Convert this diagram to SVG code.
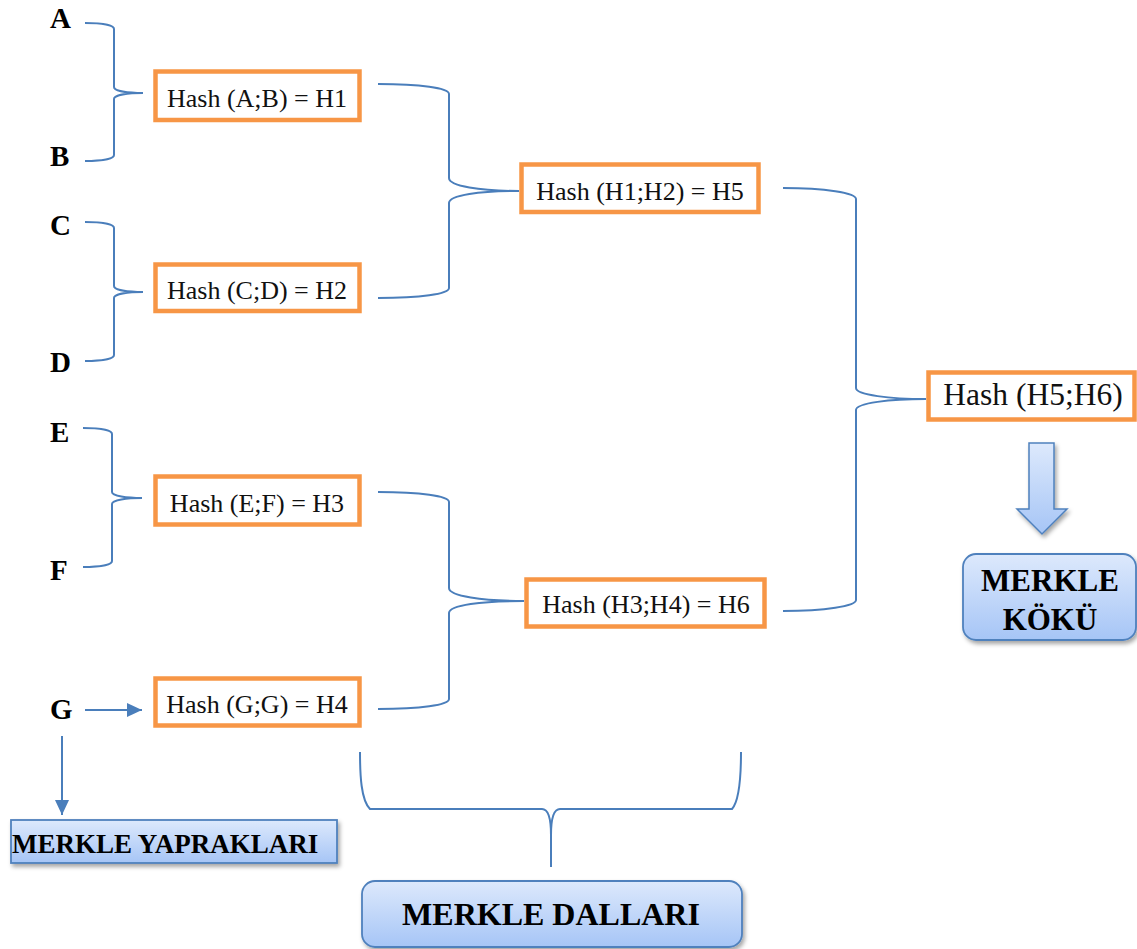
<svg xmlns="http://www.w3.org/2000/svg" width="1137" height="949" viewBox="0 0 1137 949">
<style>
.leaf{font-family:"Liberation Serif","Times New Roman",serif;font-weight:bold;font-size:29px;fill:#000}
.hbox{fill:#fff;stroke:#F79646;stroke-width:4.5}
.htxt{font-family:"Liberation Serif","Times New Roman",serif;font-size:26px;fill:#111;text-anchor:middle}
.con{fill:none;stroke:#4A7EBB;stroke-width:2}
.blue{fill:url(#bg);stroke:#4F81BD;stroke-width:1.8;filter:url(#sh)}
.btxt{font-family:"Liberation Serif","Times New Roman",serif;font-weight:bold;fill:#000}
</style>
<defs>
<linearGradient id="bg" x1="0" y1="0" x2="0" y2="1">
<stop offset="0" stop-color="#DDE9FC"/>
<stop offset="1" stop-color="#A6C5F6"/>
</linearGradient>
<filter id="sh" x="-10%" y="-10%" width="130%" height="140%">
<feDropShadow dx="2" dy="3" stdDeviation="2" flood-color="#000" flood-opacity="0.35"/>
</filter>
<marker id="ah" markerWidth="15" markerHeight="14" refX="15" refY="7" orient="auto" markerUnits="userSpaceOnUse">
<path d="M0,0 L15,7 L0,14 Z" fill="#4A7EBB"/>
</marker>
</defs>

<g id="leaf-A"><text class="leaf" x="50" y="28">A</text></g>
<g id="leaf-B"><text class="leaf" x="50" y="166">B</text></g>
<g id="leaf-C"><text class="leaf" x="50" y="235">C</text></g>
<g id="leaf-D"><text class="leaf" x="50" y="372">D</text></g>
<g id="leaf-E"><text class="leaf" x="50" y="442">E</text></g>
<g id="leaf-F"><text class="leaf" x="50" y="580">F</text></g>
<g id="leaf-G"><text class="leaf" x="50" y="719">G</text></g>

<g id="connectors">
<path class="con" d="M85,23 C102,23 114,25 114,29 L114,87 C114,91 128,93 143,93 C128,93 114,95 114,99 L114,155 C114,159 102,161 85,161"/>
<path class="con" d="M85,222 C102,222 114,224 114,228 L114,286 C114,290 128,292 143,292 C128,292 114,294 114,298 L114,355 C114,359 102,361 85,361"/>
<path class="con" d="M83,428 C100,428 112,430 112,434 L112,492 C112,496 127,498 142,498 C127,498 112,500 112,504 L112,561 C112,565 100,567 83,567"/>
<path class="con" d="M85,710 L142,710" marker-end="url(#ah)"/>
<path class="con" d="M62,736 L62,815" marker-end="url(#ah)"/>
<path class="con" d="M378,84 C420,84 449,88 449,94 L449,178 C449,186 480,191 519,191 C480,191 449,195 449,203 L449,288 C449,294 420,298 378,298"/>
<path class="con" d="M378,492 C420,492 449,496 449,502 L449,588 C449,596 482,601 524,601 C482,601 449,605 449,613 L449,699 C449,705 420,709 378,709"/>
<path class="con" d="M783,188 C825,188 856,193 856,199 L856,388 C856,395 890,399 926,399 C890,399 856,403 856,410 L856,600 C856,606 825,611 783,611"/>
<path class="con" d="M360,752 C360,775 361,800 370,809 L542,809 C549,809 551,820 551,835 L551,867 M551,835 C551,820 553,809 560,809 L732,809 C740,800 741,775 741,752"/>
<path d="M1029,443 L1054,443 L1054,509 L1067,509 L1042,534 L1017,509 L1029,509 Z" fill="url(#bg)" stroke="#4F81BD" stroke-width="1.5" filter="url(#sh)"/>
</g>

<g id="H1"><rect class="hbox" x="155.5" y="71.5" width="204" height="48.5"/><text class="htxt" x="257" y="107">Hash (A;B) = H1</text></g>
<g id="H2"><rect class="hbox" x="155.5" y="264.5" width="204" height="46.5"/><text class="htxt" x="257" y="299">Hash (C;D) = H2</text></g>
<g id="H3"><rect class="hbox" x="155.5" y="476.5" width="204" height="48"/><text class="htxt" x="257" y="512">Hash (E;F) = H3</text></g>
<g id="H4"><rect class="hbox" x="155.5" y="678.5" width="204" height="47"/><text class="htxt" x="257" y="713">Hash (G;G) = H4</text></g>
<g id="H5"><rect class="hbox" x="521.5" y="164.5" width="237" height="47.5"/><text class="htxt" x="640" y="200">Hash (H1;H2) = H5</text></g>
<g id="H6"><rect class="hbox" x="526.5" y="579.5" width="238" height="47"/><text class="htxt" x="646" y="613">Hash (H3;H4) = H6</text></g>
<g id="root"><rect class="hbox" x="928.5" y="372.5" width="206" height="47"/><text class="htxt" x="1033" y="405" style="font-size:31.5px">Hash (H5;H6)</text></g>

<g id="merkle-yapraklari"><rect class="blue" x="11" y="820" width="326" height="43"/><text class="btxt" x="12" y="853" style="font-size:27px">MERKLE YAPRAKLARI</text></g>
<g id="merkle-dallari"><rect class="blue" x="362" y="881" width="380" height="66" rx="13"/><text class="btxt" x="551" y="925" text-anchor="middle" style="font-size:32px">MERKLE DALLARI</text></g>
<g id="merkle-koku"><rect class="blue" x="963" y="554" width="173" height="86" rx="13"/><text class="btxt" x="1050" y="591" text-anchor="middle" style="font-size:31px">MERKLE</text><text class="btxt" x="1050" y="630" text-anchor="middle" style="font-size:31px">KÖKÜ</text></g>
</svg>
